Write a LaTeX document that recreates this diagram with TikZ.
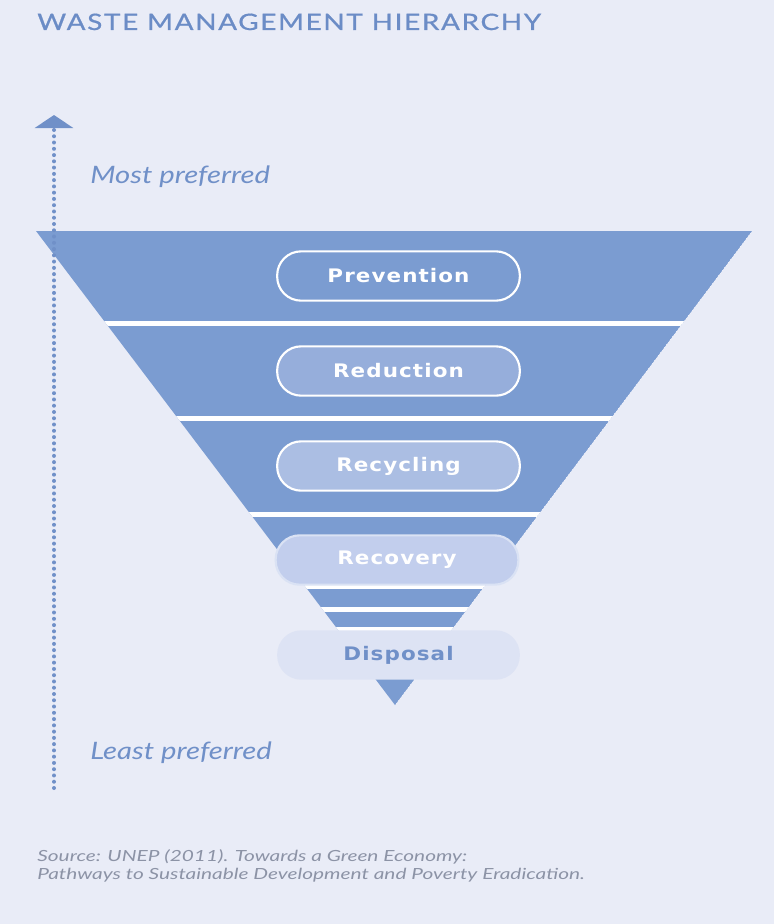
\documentclass[tikz,border=0pt]{standalone}
\usepackage{fontspec}
\usepackage{graphicx}
\setmainfont{Lato}
\newfontfamily\pillfont{DejaVu Sans}[LetterSpace=5]
\usepackage{tikz}
\usetikzlibrary{arrows.meta}
\usetikzlibrary{positioning}
\definecolor{bgcol}{HTML}{E9ECF7}
\definecolor{bandcol}{HTML}{7B9CD1}
\definecolor{titlecol}{HTML}{6B8CC6}
\definecolor{labcol}{HTML}{7090C8}
\definecolor{srccol}{HTML}{8C93A6}
\definecolor{pilla}{HTML}{7B9CD1}
\definecolor{pillb}{HTML}{96AEDB}
\definecolor{pillc}{HTML}{ABBEE3}
\definecolor{pilld}{HTML}{C2CEED}
\definecolor{pille}{HTML}{DDE3F4}
\newcommand{\wide}[1]{\scalebox{1.15}[1]{#1}}

\begin{document}
\begin{tikzpicture}[x=0.75pt, y=-0.75pt]
	\tikzstyle{pill}=[rectangle, rounded corners=18pt, minimum width=182pt,
	                  minimum height=37pt, inner sep=0pt, line width=1.6pt,
	                  font=\pillfont\bfseries\fontsize{14}{16}\selectfont, text=white];
	\tikzstyle{pref}=[anchor=base west, inner sep=0pt, xscale=1.22,
	                  font=\itshape\fontsize{18}{21}\selectfont, text=labcol];
	% background and frame
	\fill[bgcol] (0,0) rectangle (774,924);
	\useasboundingbox (0,0) rectangle (774,924);
	% title
	\node[anchor=base west, inner sep=0pt, text=titlecol, xscale=1.23,
	      font=\addfontfeatures{LetterSpace=6, FakeBold=0.7}\fontsize{17}{20}\selectfont]
	      (title) at (37,30) {WASTE MANAGEMENT HIERARCHY};
	% the inverted triangle, cut into bands
	\coordinate (tl) at (36,231);
	\coordinate (tr) at (752,231);
	\coordinate (apex) at (395,705);
	\begin{scope}
		\clip (tl) -- (tr) -- (apex) -- cycle;
		\fill[bandcol] (tl) -- (tr) -- (apex) -- cycle;
		\foreach \y in {323.5, 418.5, 514.5, 586, 609.5, 630}
		{\draw[white, line width=3.8pt] (0,\y) -- (774,\y);}
	\end{scope}
	% steps of the hierarchy
	\node[pill, draw=white, fill=pilla] (prevention) at (398.5,276) {\wide{Prevention}};
	\node[pill, draw=white, fill=pillb] (reduction) at (398.5,371) {\wide{Reduction}};
	\node[pill, draw=white, fill=pillc] (recycling) at (398.5,466) {\wide{Recycling}};
	\node[pill, draw=pilld!60!white, fill=pilld] (recovery) at (397,560) {\wide{Recovery}};
	\node[pill, fill=pille, text=labcol] (disposal) at (398.5,655) {\wide{Disposal}};
	% preference axis
	\coordinate (axbot) at (54,788);
	\coordinate (axtop) at (54,115);
	\draw[labcol, line width=3pt, line cap=round, dash pattern=on 0pt off 4.7pt,
	      -{Triangle[width=28.5pt, length=9.75pt]}] (axbot) -- (axtop);
	\node[pref] (most) at (90,183) {Most preferred};
	\node[pref] (least) at (90,759) {Least preferred};
	% source
	\node[anchor=north west, align=left, inner sep=0pt, text=srccol, xscale=1.36,
	      font=\itshape\fontsize{11.5}{13.5}\selectfont]
	      (source) at (37,849) {Source: UNEP (2011). Towards a Green Economy:\\
	      Pathways to Sustainable Development and Poverty Eradication.};
\end{tikzpicture}
\end{document}
